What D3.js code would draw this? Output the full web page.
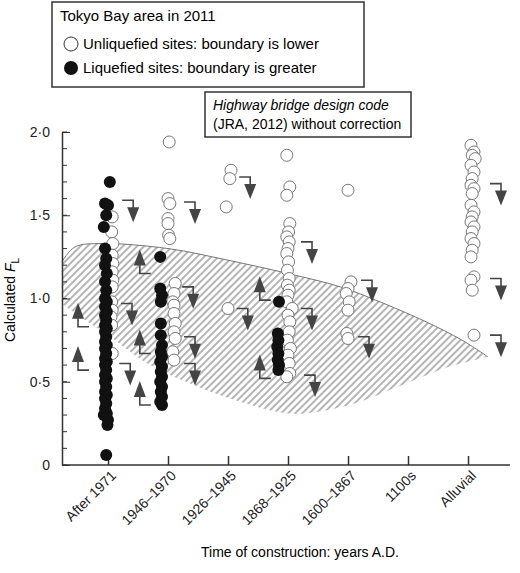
<!DOCTYPE html>
<html><head><meta charset="utf-8">
<script src="https://cdn.jsdelivr.net/npm/d3@7"></script>
<style>body{margin:0;background:#fff}text{font-family:"Liberation Sans",Arial,sans-serif}</style>
</head><body><svg width="520" height="573"></svg>
<script>
// categories along the x axis
var categories = ["After 1971", "1946\u20131970", "1926\u20131945", "1868\u20131925", "1600\u20131867", "1100s", "Alluvial"];
var yTicks = [0, 0.5, 1.0, 1.5, 2.0];
var yTickLabels = ["0", "0\u00b75", "1\u00b70", "1\u00b75", "2\u00b70"];

// liquefied sites (filled) : [x position in category units, FL]
var liquefied = [
  [0.03,1.70],[-0.05,1.57],[0.0,1.56],[-0.03,1.50],[-0.07,1.43],[-0.05,1.30],[-0.03,1.24],[-0.05,1.20],[-0.02,1.15],
  [-0.05,1.10],[-0.03,1.05],[-0.05,1.00],[-0.02,0.98],[-0.05,0.95],[-0.02,0.92],[-0.05,0.90],[-0.03,0.87],[-0.05,0.84],
  [-0.02,0.82],[-0.05,0.80],[-0.03,0.77],[-0.05,0.74],[-0.02,0.72],[-0.05,0.70],[-0.03,0.67],[-0.05,0.64],[-0.02,0.62],
  [-0.05,0.60],[-0.03,0.57],[-0.05,0.54],[-0.02,0.52],[-0.05,0.50],[-0.03,0.47],[-0.05,0.44],[-0.02,0.42],[-0.05,0.40],
  [-0.03,0.37],[-0.05,0.34],[-0.02,0.31],[-0.07,0.30],[0.0,0.27],[-0.01,0.24],[-0.03,0.06],
  [0.87,1.25],[0.87,1.06],[0.9,1.02],[0.88,0.98],[0.88,0.85],[0.88,0.78],[0.9,0.72],[0.88,0.68],[0.9,0.65],[0.87,0.62],
  [0.9,0.59],[0.88,0.56],[0.9,0.53],[0.87,0.50],[0.9,0.47],[0.88,0.44],[0.9,0.41],[0.87,0.38],[0.9,0.36],
  [2.85,0.98],[2.83,0.79],[2.84,0.75],[2.82,0.71],[2.84,0.67],[2.83,0.63],[2.85,0.60],[2.84,0.57]
];

// unliquefied sites (open)
var unliquefied = [
  [0.07,1.49],[0.06,1.40],[0.08,1.33],[0.07,1.26],[0.08,1.21],[0.07,1.16],[0.08,1.11],[0.07,1.07],[0.06,0.98],
  [0.07,0.93],[0.05,0.89],[0.06,0.84],[0.07,0.67],
  [1.02,1.94],[1.0,1.60],[1.03,1.57],[1.0,1.48],[1.0,1.45],[1.01,1.38],[1.03,1.36],[1.12,1.09],[1.1,1.03],
  [1.08,0.98],[1.1,0.96],[1.1,0.91],[1.12,0.85],[1.1,0.80],[1.12,0.76],[1.08,0.68],[1.1,0.63],
  [2.05,1.77],[2.03,1.72],[1.97,1.55],[2.0,0.94],
  [2.98,1.86],[3.03,1.67],[2.98,1.62],[3.03,1.45],[3.01,1.40],[2.98,1.37],[3.02,1.34],[3.0,1.30],[2.98,1.27],
  [3.01,1.22],[2.99,1.17],[3.02,1.12],[2.99,1.08],[3.02,1.05],[3.0,1.02],[2.98,0.98],[3.07,0.94],[3.0,0.90],
  [3.03,0.86],[3.02,0.80],[2.99,0.75],[3.04,0.70],[3.0,0.66],[3.02,0.61],[3.03,0.55],[2.98,0.53],
  [4.0,1.65],[4.05,1.10],[4.0,1.06],[3.97,1.03],[4.02,0.98],[4.0,0.93],[3.98,0.79],[4.0,0.76],
  [6.05,1.92],[6.1,1.88],[6.07,1.86],[6.12,1.84],[6.05,1.80],[6.1,1.76],[6.07,1.72],[6.05,1.68],[6.1,1.66],
  [6.07,1.63],[6.05,1.56],[6.1,1.52],[6.07,1.49],[6.05,1.46],[6.1,1.43],[6.07,1.40],[6.05,1.36],[6.1,1.33],
  [6.07,1.29],[6.05,1.25],[6.1,1.13],[6.05,1.11],[6.07,1.05],[6.1,0.78]
];

// up arrows (triangle x, FL at stem foot) and down arrows (triangle x, FL at top bar)
var upArrows = [[-0.5,0.83],[-0.5,0.57],[0.53,1.15],[0.53,0.67],[0.53,0.36],[2.53,0.99],[2.53,0.52]];
var downArrows = [[0.42,1.59],[1.45,1.58],[2.37,1.73],[3.4,1.34],[0.4,0.97],[1.42,1.07],[2.33,0.94],[3.4,0.94],
  [0.37,0.61],[1.45,0.77],[1.45,0.61],[3.45,0.54],[4.4,1.11],[4.35,0.77],[6.55,1.69],[6.55,1.12],[6.55,0.78]];

// hatched zone boundary
var zoneTop = [[-0.77,1.22],[-0.55,1.31],[-0.1,1.33],[1.0,1.30],[2.0,1.23],[3.0,1.15],[3.87,1.07],[4.6,0.97],[5.3,0.86],[5.9,0.75],[6.33,0.65]];
var zoneBottom = [[6.33,0.65],[5.6,0.58],[4.9,0.48],[4.2,0.38],[3.5,0.32],[3.0,0.31],[2.2,0.38],[1.5,0.47],[0.7,0.6],[0.0,0.78],[-0.5,0.9],[-0.77,0.97]];

var svg = d3.select("svg");
var x = d3.scaleLinear().domain([-0.767, 6.7]).range([62, 510]);
var y = d3.scaleLinear().domain([0, 2]).range([465, 132]);

var defs = svg.append("defs");
var pat = defs.append("pattern").attr("id", "hatch").attr("patternUnits", "userSpaceOnUse")
  .attr("width", 5).attr("height", 5).attr("patternTransform", "rotate(45)");
pat.append("line").attr("x1", 1).attr("y1", 0).attr("x2", 1).attr("y2", 5).attr("stroke", "#777").attr("stroke-width", 1.1);

var line = d3.line().x(function(d){ return x(d[0]); }).y(function(d){ return y(d[1]); }).curve(d3.curveCatmullRom);
svg.append("path").attr("d", line(zoneTop.concat(zoneBottom))).attr("fill", "url(#hatch)");
svg.append("path").attr("d", line(zoneTop)).attr("fill", "none").attr("stroke", "#777").attr("stroke-width", 1);

// axes
var yAxis = d3.axisLeft(y).tickValues(yTicks).tickFormat(function(d, i){ return yTickLabels[i]; }).tickSizeInner(-8).tickSizeOuter(0).tickPadding(12);
var gy = svg.append("g").attr("transform", "translate(62,0)").call(yAxis);
gy.selectAll("line").attr("stroke", "#333");
gy.selectAll("text").attr("font-size", 14).attr("fill", "#222");
var minor = d3.range(0, 2.01, 0.1);
gy.selectAll(".minor").data(minor).enter().append("line").attr("x1", 0).attr("x2", 5)
  .attr("y1", function(d){ return y(d); }).attr("y2", function(d){ return y(d); }).attr("stroke", "#333");
gy.select(".domain").attr("stroke", "#333").attr("stroke-width", 1.5);

var xb = d3.scaleLinear().domain([0, 6]).range([x(0), x(6)]);
var xAxis = d3.axisBottom(xb).tickValues(d3.range(7)).tickFormat(function(d){ return categories[d]; }).tickSizeInner(-9).tickSizeOuter(0);
var gx = svg.append("g").attr("transform", "translate(0,465)").call(xAxis);
gx.select(".domain").attr("d", "M62,0H510").attr("stroke", "#333").attr("stroke-width", 1.5);
gx.selectAll("line").attr("stroke", "#333").attr("stroke-width", 1.5);
gx.selectAll("text").attr("font-size", 14).attr("fill", "#222").attr("text-anchor", "end")
  .attr("transform", "translate(5,8) rotate(-45)").attr("dy", "0.35em").attr("y", 0);

// arrows
function upArrow(g, d){
  var cx = x(d[0]), by = y(d[1]);
  g.append("path").attr("d", "M" + cx + "," + (by - 10) + "V" + by + "H" + (cx + 11)).attr("fill", "none").attr("stroke", "#444").attr("stroke-width", 1.6);
  g.append("path").attr("d", "M" + (cx - 6) + "," + (by - 8) + "L" + cx + "," + (by - 24) + "L" + (cx + 6) + "," + (by - 8) + "Z").attr("fill", "#444");
}
function downArrow(g, d){
  var cx = x(d[0]), ty = y(d[1]);
  g.append("path").attr("d", "M" + (cx - 11) + "," + ty + "H" + cx + "V" + (ty + 10)).attr("fill", "none").attr("stroke", "#444").attr("stroke-width", 1.6);
  g.append("path").attr("d", "M" + (cx - 6) + "," + (ty + 7) + "L" + cx + "," + (ty + 22) + "L" + (cx + 6) + "," + (ty + 7) + "Z").attr("fill", "#444");
}
var ga = svg.append("g");
upArrows.forEach(function(d){ upArrow(ga, d); });
downArrows.forEach(function(d){ downArrow(ga, d); });

// points
svg.append("g").selectAll("circle").data(unliquefied).enter().append("circle")
  .attr("cx", function(d){ return x(d[0]); }).attr("cy", function(d){ return y(d[1]); }).attr("r", 6)
  .attr("fill", "#fff").attr("stroke", "#777").attr("stroke-width", 1);
svg.append("g").selectAll("circle").data(liquefied).enter().append("circle")
  .attr("cx", function(d){ return x(d[0]); }).attr("cy", function(d){ return y(d[1]); }).attr("r", 6)
  .attr("fill", "#111");

// legend box
var lg = svg.append("g");
lg.append("rect").attr("x", 52).attr("y", 2).attr("width", 312).attr("height", 85).attr("fill", "#fff").attr("stroke", "#333").attr("stroke-width", 1.5);
lg.append("text").attr("x", 60).attr("y", 21).attr("font-size", 15).text("Tokyo Bay area in 2011");
lg.append("circle").attr("cx", 71).attr("cy", 44).attr("r", 7).attr("fill", "#fff").attr("stroke", "#333");
lg.append("text").attr("x", 83).attr("y", 49).attr("font-size", 15).text("Unliquefied sites: boundary is lower");
lg.append("circle").attr("cx", 71).attr("cy", 68).attr("r", 7).attr("fill", "#111");
lg.append("text").attr("x", 83).attr("y", 73).attr("font-size", 15).text("Liquefied sites: boundary is greater");

var lb = svg.append("g");
lb.append("rect").attr("x", 205).attr("y", 92).attr("width", 206).attr("height", 45).attr("fill", "#fff").attr("stroke", "#333").attr("stroke-width", 1.5);
lb.append("text").attr("x", 213).attr("y", 110).attr("font-size", 14).attr("font-style", "italic").text("Highway bridge design code");
lb.append("text").attr("x", 213).attr("y", 129).attr("font-size", 14).text("(JRA, 2012) without correction");

// axis titles
var yl = svg.append("text").attr("transform", "translate(15,300) rotate(-90)").attr("text-anchor", "middle").attr("font-size", 14);
yl.append("tspan").text("Calculated ");
yl.append("tspan").attr("font-style", "italic").text("F");
yl.append("tspan").attr("font-size", 10).attr("dy", 4).text("L");
svg.append("text").attr("x", 300).attr("y", 557).attr("text-anchor", "middle").attr("font-size", 14).text("Time of construction: years A.D.");
</script></body></html>
